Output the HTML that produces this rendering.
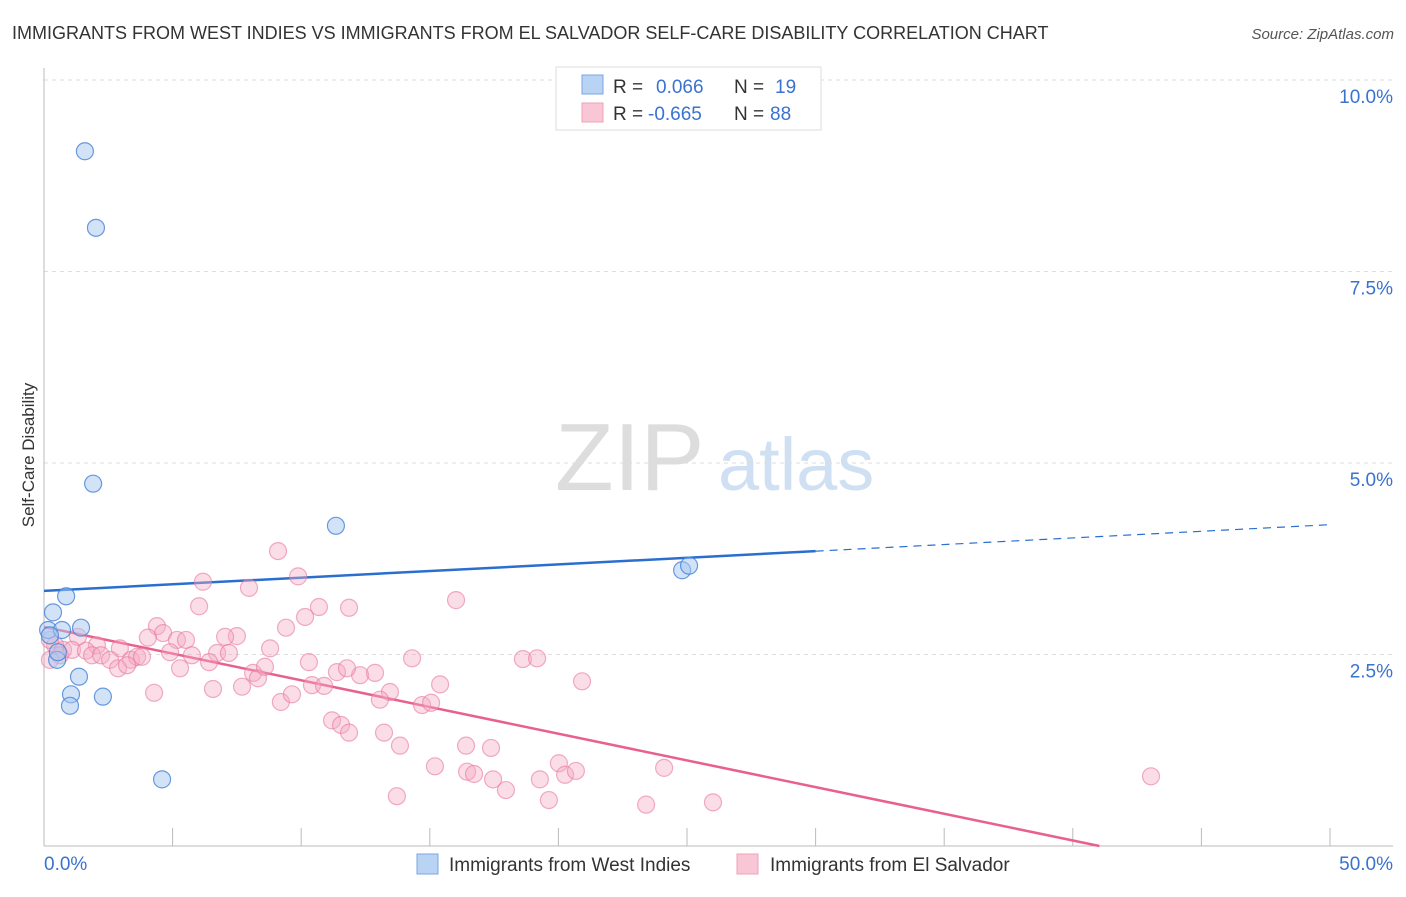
<!DOCTYPE html>
<html><head><meta charset="utf-8"><style>
body{margin:0;background:#fff;font-family:"Liberation Sans",sans-serif;}
svg text{font-family:"Liberation Sans",sans-serif;}
</style></head><body>
<svg id="chart" width="1406" height="892" xmlns="http://www.w3.org/2000/svg">
<text x="12" y="39" font-size="18" fill="#333">IMMIGRANTS FROM WEST INDIES VS IMMIGRANTS FROM EL SALVADOR SELF-CARE DISABILITY CORRELATION CHART</text>
<text x="1394" y="39" font-size="15" fill="#555" text-anchor="end" font-style="italic">Source: ZipAtlas.com</text>
<g>
<text x="555" y="490" font-size="96" fill="#ddd" font-family="Liberation Serif,serif">ZIP</text>
<text x="718" y="490" font-size="74" fill="#cfe0f3">atlas</text>
</g>
<g id="grid"></g><g id="axes"></g><g id="lines"></g><g id="points"></g>
<text transform="translate(34,455) rotate(-90)" font-size="17" fill="#333" text-anchor="middle">Self-Care Disability</text>
<g>
<rect x="556" y="67" width="265" height="63" fill="#fff" stroke="#ddd"/>
<rect x="582" y="75" width="21" height="19" fill="#b8d3f4" stroke="#7aa6e0"/>
<rect x="582" y="103" width="21" height="19" fill="#f9c6d5" stroke="#eea0b8"/>
<text x="613" y="93" font-size="19" fill="#333">R = </text><text x="656" y="93" font-size="19" fill="#3a72d0">0.066</text>
<text x="734" y="93" font-size="19" fill="#333">N = </text><text x="775" y="93" font-size="19" fill="#3a72d0">19</text>
<text x="613" y="120" font-size="19" fill="#333">R = </text><text x="648" y="120" font-size="19" fill="#3a72d0">-0.665</text>
<text x="734" y="120" font-size="19" fill="#333">N = </text><text x="770" y="120" font-size="19" fill="#3a72d0">88</text>
</g>
<g>
<rect x="417" y="854" width="21" height="20" fill="#b8d3f4" stroke="#7aa6e0"/>
<text x="449" y="871" font-size="19" fill="#333">Immigrants from West Indies</text>
<rect x="737" y="854" width="21" height="20" fill="#f9c6d5" stroke="#eea0b8"/>
<text x="770" y="871" font-size="19" fill="#333">Immigrants from El Salvador</text>
</g>
</svg>
<script>
const yTicks=[2.5,5.0,7.5,10.0];
const yTickLabels=["2.5%","5.0%","7.5%","10.0%"];
const xTickVals=[0,5,10,15,20,25,30,35,40,45,50];
const xEndLabels=["0.0%","50.0%"];
const blueX=[1.59,2.02,1.91,11.35,24.81,25.08,0.86,0.35,0.16,0.70,1.44,0.23,0.51,0.54,1.36,1.05,1.01,2.29,4.59];
const blueY=[9.07,8.07,4.73,4.18,3.60,3.66,3.26,3.05,2.82,2.82,2.85,2.75,2.43,2.53,2.21,1.98,1.83,1.95,0.87];
const pinkX=[9.10,6.18,9.88,7.97,6.03,10.69,11.86,16.02,4.39,10.15,4.63,5.17,5.52,4.04,7.50,7.04,9.41,8.79,2.95,2.06,1.32,0.74,0.43,0.23,0.62,1.09,1.63,1.87,2.22,2.57,3.38,3.62,3.81,2.88,3.23,4.90,5.75,6.73,7.19,6.42,5.29,10.30,8.13,8.32,8.59,11.39,12.29,11.78,12.87,14.31,18.62,19.17,20.92,4.28,6.57,7.70,9.21,9.64,10.42,10.89,13.45,13.06,14.70,15.05,15.40,11.20,11.55,11.86,13.22,13.84,16.41,17.38,15.20,16.45,16.72,17.46,17.96,20.02,20.26,20.68,19.28,24.11,43.04,13.72,19.63,23.41,26.01,0.23];
const pinkY=[3.85,3.45,3.52,3.37,3.13,3.12,3.11,3.21,2.87,2.99,2.78,2.69,2.69,2.72,2.74,2.73,2.85,2.58,2.58,2.62,2.73,2.56,2.62,2.69,2.49,2.56,2.55,2.49,2.49,2.43,2.43,2.47,2.47,2.32,2.36,2.53,2.49,2.52,2.52,2.40,2.32,2.40,2.26,2.19,2.34,2.27,2.23,2.32,2.26,2.45,2.44,2.45,2.15,2.00,2.05,2.08,1.88,1.98,2.10,2.09,2.01,1.91,1.84,1.87,2.11,1.64,1.58,1.48,1.48,1.31,1.31,1.28,1.04,0.97,0.94,0.87,0.73,1.08,0.93,0.98,0.87,1.02,0.91,0.65,0.60,0.54,0.57,2.43];
const blueTrend=[3.33,0.0173]; // intercept, slope
const pinkTrend=[2.86,-0.0697];
const sx=v=>44+v*25.72, sy=v=>846-v*76.6;
const NS="http://www.w3.org/2000/svg";
function mk(tag,attrs,parent){const e=document.createElementNS(NS,tag);for(const k in attrs)e.setAttribute(k,attrs[k]);document.getElementById(parent).appendChild(e);return e;}
yTicks.forEach((t,i)=>{
 const g=mk('line',{x1:44,x2:1393,y1:sy(t),y2:sy(t),stroke:'#ddd','stroke-dasharray':'4,4'},'grid');
 
 
 const l=mk('text',{x:1393,y:sy(t)+23,'font-size':19,fill:'#3a72d0','text-anchor':'end'},'grid');
 l.textContent=yTickLabels[i];
 
 
});
const ay=mk('line',{x1:44,x2:44,y1:68,y2:846,stroke:'#bbb'},'axes');


const ax=mk('line',{x1:44,x2:1393,y1:846,y2:846,stroke:'#bbb'},'axes');


xTickVals.forEach(v=>{
 const t=mk('line',{x1:sx(v),x2:sx(v),y1:828,y2:846,stroke:'#bbb'},'axes');
 
 
});
const xl0=mk('text',{x:44,y:870,'font-size':19,fill:'#3a72d0'},'axes');xl0.textContent=xEndLabels[0];


const xl1=mk('text',{x:1393,y:870,'font-size':19,fill:'#3a72d0','text-anchor':'end'},'axes');xl1.textContent=xEndLabels[1];


pinkX.forEach((x,i)=>{
 const c=mk('circle',{cx:sx(x),cy:sy(pinkY[i]),r:8.5,fill:'rgba(246,170,196,0.4)',stroke:'rgba(232,120,158,0.6)','stroke-width':1.2},'points');
 
 
});
blueX.forEach((x,i)=>{
 const c=mk('circle',{cx:sx(x),cy:sy(blueY[i]),r:8.5,fill:'rgba(165,200,242,0.5)',stroke:'rgba(70,130,215,0.8)','stroke-width':1.2},'points');
 
 
});
const bl=mk('line',{x1:sx(0),y1:sy(blueTrend[0]),x2:sx(30),y2:sy(blueTrend[0]+blueTrend[1]*30),stroke:'#2a6fd0','stroke-width':2.5},'lines');


const bd=mk('line',{x1:sx(30),y1:sy(blueTrend[0]+blueTrend[1]*30),x2:sx(50),y2:sy(blueTrend[0]+blueTrend[1]*50),stroke:'#2a6fd0','stroke-width':1.2,'stroke-dasharray':'8,6'},'lines');


const xz=-pinkTrend[0]/pinkTrend[1];
const pl=mk('line',{x1:sx(0),y1:sy(pinkTrend[0]),x2:sx(xz),y2:sy(0),stroke:'#e8608c','stroke-width':2.5},'lines');


</script>
</body></html>
